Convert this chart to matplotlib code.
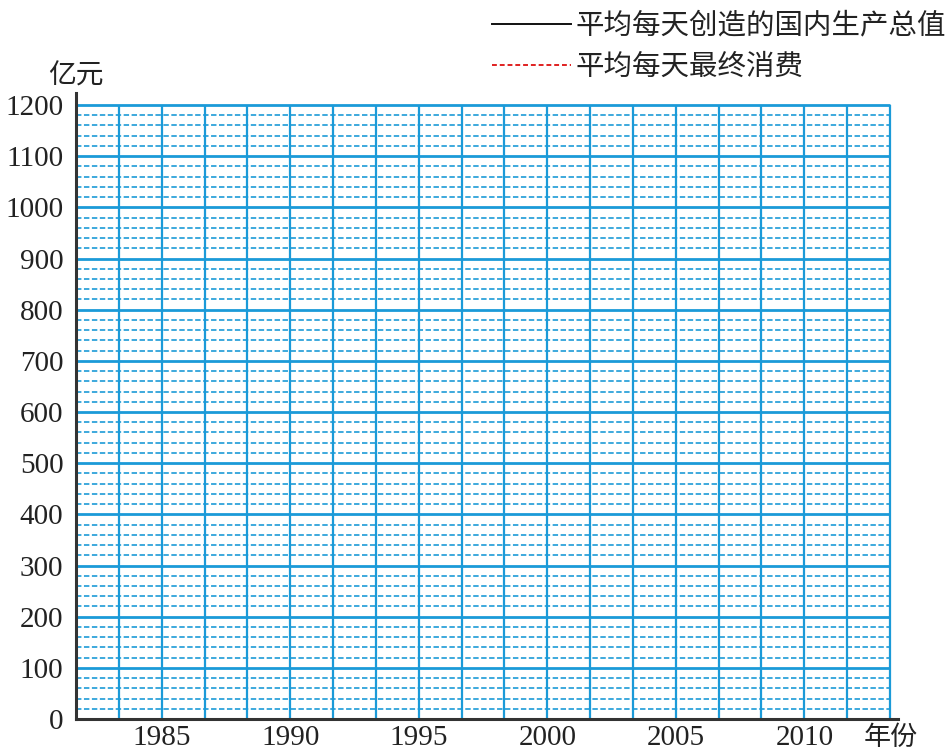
import matplotlib.pyplot as plt
import numpy as np

plt.rcParams['font.family'] = ['Noto Sans CJK SC', 'DejaVu Sans']

# chart content
YEAR_LABELS = ['1985', '1990', '1995', '2000', '2005', '2010']
YEAR_LABEL_SLOTS = [2, 5, 8, 11, 14, 17]  # which vertical grid line each year sits on
N_COLUMNS = 19
Y_MAX = 1200
Y_MAJOR = list(range(0, 1201, 100))
Y_MINOR_STEP = 20
SERIES_NAMES = ['平均每天创造的国内生产总值', '平均每天最终消费']
Y_UNIT = '亿元'
X_UNIT = '年份'

BLUE = '#1b9ad8'
BLUE_LIGHT = '#2ea3da'

fig = plt.figure(figsize=(9.49, 7.53), dpi=100)
W, H = 949, 753
ax = fig.add_axes([76 / W, (H - 719) / H, (898 - 76) / W, (719 - 93) / H])
ax.set_xlim(0, N_COLUMNS * (898 - 76) / 814)
ax.set_ylim(0, Y_MAX * (719 - 93) / (719 - 105))

# minor dashed horizontal lines
minor = [v for v in range(0, Y_MAX, Y_MINOR_STEP) if v % 100 != 0]
ax.hlines(minor, 0, N_COLUMNS, colors=BLUE_LIGHT, linewidth=1.3,
          linestyles=(0, (3, 1.4)), zorder=1)
# major solid horizontal lines
ax.hlines([v for v in Y_MAJOR if v > 0], 0, N_COLUMNS, colors=BLUE,
          linewidth=2.0, zorder=2)
# vertical lines
ax.vlines(np.arange(1, N_COLUMNS + 1), 0, Y_MAX, colors=BLUE,
          linewidth=1.6, zorder=2)

for s in ['top', 'right']:
    ax.spines[s].set_visible(False)
for s in ['left', 'bottom']:
    ax.spines[s].set_color('#333333')
    ax.spines[s].set_linewidth(2.2)
    ax.spines[s].set_zorder(3)

ax.set_yticks(Y_MAJOR)
ax.set_yticklabels([str(v) for v in Y_MAJOR], family='Liberation Serif', fontsize=21)
ax.set_xticks(YEAR_LABEL_SLOTS)
ax.set_xticklabels(YEAR_LABELS, family='Liberation Serif', fontsize=21)
ax.tick_params(length=0, pad=9, colors='#222222')
ax.tick_params(axis='x', pad=4)

fig.text(48 / W, 1 - 76 / H, Y_UNIT, fontsize=20, weight='medium', va='center',
         ha='left', color='#222222')
fig.text(864 / W, 1 - 737 / H, X_UNIT, fontsize=19.5, weight='medium', va='center',
         ha='left', color='#222222')

# legend
h1, = ax.plot([], [], color='#111111', linewidth=1.4)
h2, = ax.plot([], [], color='#e02020', linewidth=1.4, linestyle=(0, (2.5, 1.5)))
fig.legend([h1, h2], SERIES_NAMES, loc='upper right', bbox_to_anchor=(1.024, 1.02),
           frameon=False, prop={'size': 20.5, 'weight': 'medium'},
           handlelength=2.75, handletextpad=0.18, labelspacing=0.4,
           labelcolor='#222222')

fig.savefig('out.png', dpi=100)
